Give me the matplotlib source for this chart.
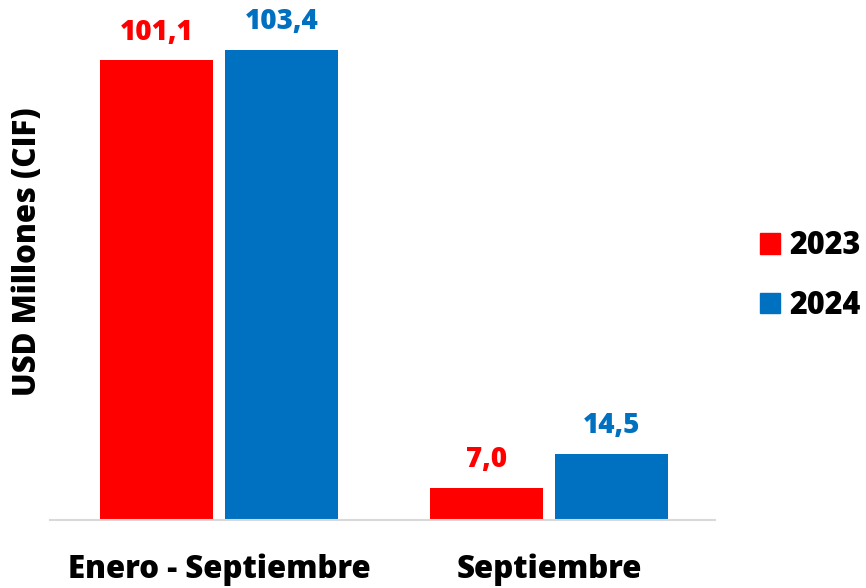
import numpy as np
import matplotlib
matplotlib.use("Agg")
from matplotlib import pyplot as plt
from matplotlib.patches import Patch

categories = ["Enero - Septiembre", "Septiembre"]
series_names = ["2023", "2024"]
values_2023 = [101.1, 7.0]
values_2024 = [103.4, 14.5]
labels_2023 = ["101,1", "7,0"]
labels_2024 = ["103,4", "14,5"]

RED = "#ff0000"
BLUE = "#0070c0"

plt.rcParams['font.family'] = ['Open Sans', 'DejaVu Sans']
WT = "heavy"

fig = plt.figure(figsize=(8.66, 5.88), dpi=100)
ax = fig.add_axes([50/866, 1 - 520/588, 665/866, 500/588])

x = np.arange(len(categories))
w = 0.342
off = 0.189
b1 = ax.bar(x - off, values_2023, w, color=RED)
b2 = ax.bar(x + off, values_2024, w, color=BLUE)

for bars, labs, col in [(b1, labels_2023, RED), (b2, labels_2024, BLUE)]:
    for bar, lab in zip(bars, labs):
        ax.annotate(lab, (bar.get_x() + bar.get_width() / 2, bar.get_height()),
                    xytext=(0, 10), textcoords="offset points",
                    ha="center", va="bottom", color=col,
                    fontsize=20, fontweight=WT)

ax.set_xlim(-0.512, 1.503)
ax.set_ylim(0, 103.4 * 500 / 470)
ax.set_xticks(x)
ax.set_xticklabels(categories, fontsize=22.5, fontweight=WT)
ax.tick_params(axis="x", length=0, pad=24)
ax.set_yticks([])
for s in ["top", "right", "left"]:
    ax.spines[s].set_visible(False)
ax.spines["bottom"].set_color("#d9d9d9")
ax.spines["bottom"].set_linewidth(1.5)

fig.text(28/866, 1 - 252/588, "USD Millones (CIF)", rotation=90, ha="center",
         va="center", fontsize=22.5, fontweight=WT)

handles = [Patch(color=RED), Patch(color=BLUE)]
leg = fig.legend(handles, series_names, loc="center left",
                 bbox_to_anchor=(760/866, 1 - 276/588), frameon=False,
                 prop={"size": 22, "weight": WT},
                 handlelength=0.65, handleheight=0.65, handletextpad=0.3,
                 labelspacing=0.9, borderpad=0, borderaxespad=0)

fig.savefig("out.png", dpi=100)
